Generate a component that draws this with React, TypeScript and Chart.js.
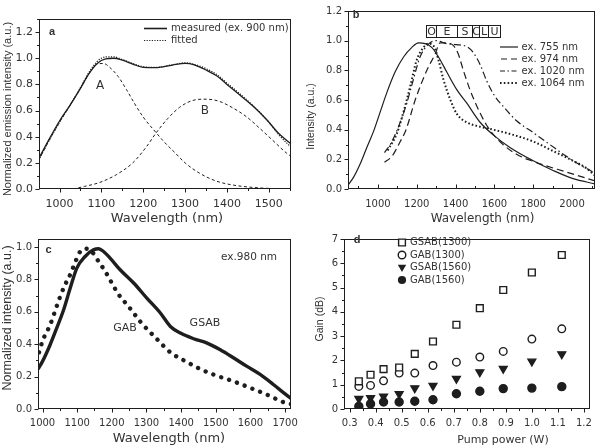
import React, { useEffect, useRef } from 'react';
import { Chart, registerables } from 'chart.js';
Chart.register(...registerables);

const INK = '#1e1e1e';
const TXT = '#333333';
const SANS = '"DejaVu Sans", sans-serif';
const ARIAL = '"Liberation Sans", Arial, sans-serif';

// ---------- Panel a ----------
const aWave = [950, 975, 1000, 1025, 1050, 1070, 1090, 1110, 1130, 1150, 1175, 1200, 1230, 1270, 1300, 1320, 1350, 1378, 1400, 1430, 1460, 1495, 1525, 1553];
const aMeasured = [0.23, 0.38, 0.52, 0.64, 0.77, 0.88, 0.96, 0.995, 1.0, 0.985, 0.955, 0.93, 0.928, 0.948, 0.96, 0.952, 0.91, 0.86, 0.8, 0.72, 0.64, 0.53, 0.42, 0.345];
const aFitted = [0.22, 0.37, 0.51, 0.64, 0.775, 0.89, 0.975, 1.01, 1.01, 0.99, 0.96, 0.935, 0.93, 0.95, 0.965, 0.955, 0.92, 0.87, 0.81, 0.73, 0.645, 0.53, 0.41, 0.32];
const aWaveA = [950, 975, 1000, 1025, 1050, 1070, 1090, 1105, 1120, 1140, 1160, 1180, 1200, 1231, 1250, 1275, 1300, 1335, 1375, 1415, 1480, 1553];
const aCompA = [0.22, 0.37, 0.51, 0.64, 0.77, 0.88, 0.955, 0.96, 0.93, 0.86, 0.76, 0.65, 0.55, 0.43, 0.36, 0.28, 0.2, 0.12, 0.06, 0.03, 0.008, 0.0];
const aWaveB = [1032, 1060, 1096, 1136, 1175, 1207, 1231, 1259, 1287, 1318, 1350, 1382, 1414, 1446, 1478, 1510, 1543, 1553];
const aCompB = [0.0, 0.02, 0.05, 0.11, 0.2, 0.32, 0.43, 0.54, 0.625, 0.677, 0.687, 0.67, 0.62, 0.554, 0.465, 0.37, 0.273, 0.25];
const aXTicks = [1000, 1100, 1200, 1300, 1400, 1500];
const aYTicks = [0, 0.2, 0.4, 0.6, 0.8, 1.0, 1.2];

// ---------- Panel b ----------
const b755Wave = [846, 875, 909, 943, 978, 1012, 1046, 1089, 1132, 1175, 1209, 1243, 1277, 1312, 1354, 1406, 1457, 1526, 1594, 1680, 1800, 1902, 2005, 2118];
const b755 = [0.026, 0.08, 0.17, 0.28, 0.39, 0.52, 0.65, 0.79, 0.89, 0.955, 0.985, 0.98, 0.955, 0.89, 0.79, 0.67, 0.58, 0.45, 0.365, 0.28, 0.19, 0.125, 0.07, 0.035];
const b974Wave = [1034, 1072, 1115, 1145, 1192, 1252, 1295, 1320, 1354, 1389, 1414, 1440, 1474, 1509, 1560, 1628, 1714, 1800, 1971, 2118];
const b974 = [0.18, 0.22, 0.32, 0.4, 0.6, 0.8, 0.91, 0.985, 0.985, 0.966, 0.91, 0.8, 0.67, 0.56, 0.43, 0.32, 0.234, 0.186, 0.114, 0.055];
const b1020Wave = [1034, 1072, 1115, 1149, 1183, 1217, 1260, 1300, 1354, 1406, 1457, 1491, 1526, 1560, 1600, 1650, 1714, 1800, 1885, 1971, 2057, 2100, 2118];
const b1020 = [0.245, 0.32, 0.45, 0.58, 0.74, 0.89, 0.977, 1.0, 0.98, 0.973, 0.96, 0.92, 0.84, 0.73, 0.63, 0.55, 0.46, 0.38, 0.3, 0.22, 0.15, 0.12, 0.1];
const b1064Wave = [1050, 1098, 1132, 1166, 1200, 1235, 1260, 1286, 1312, 1337, 1372, 1406, 1457, 1526, 1594, 1697, 1800, 1902, 2005, 2074, 2118];
const b1064 = [0.26, 0.375, 0.52, 0.69, 0.87, 0.955, 0.98, 0.966, 0.87, 0.74, 0.605, 0.507, 0.45, 0.42, 0.4, 0.365, 0.32, 0.256, 0.19, 0.14, 0.09];
const bBandNames = ['O', 'E', 'S', 'C', 'L', 'U'];
const bBandEdges = [1250, 1297, 1406, 1483, 1522, 1568, 1628];
const bBandTop = 1.105;
const bBandBottom = 1.026;
const bXTicks = [1000, 1200, 1400, 1600, 1800, 2000];
const bYTicks = [0, 0.2, 0.4, 0.6, 0.8, 1.0, 1.2];
const bLegend = ['ex. 755 nm', 'ex. 974 nm', 'ex. 1020 nm', 'ex. 1064 nm'];

// ---------- Panel c ----------
const cGsabWave = [987, 1000, 1022, 1041, 1061, 1080, 1099, 1123, 1147, 1162, 1176, 1195, 1224, 1263, 1301, 1340, 1369, 1398, 1436, 1475, 1513, 1552, 1590, 1629, 1667, 1696, 1717];
const cGsab = [0.247, 0.294, 0.397, 0.5, 0.613, 0.747, 0.87, 0.942, 0.983, 0.99, 0.973, 0.932, 0.86, 0.778, 0.685, 0.593, 0.51, 0.469, 0.434, 0.407, 0.366, 0.315, 0.263, 0.212, 0.15, 0.1, 0.065];
const cGabWave = [990, 1000, 1022, 1037, 1051, 1065, 1080, 1095, 1109, 1126, 1142, 1162, 1181, 1200, 1220, 1248, 1263, 1282, 1330, 1369, 1417, 1455, 1494, 1552, 1600, 1648, 1692, 1717];
const cGab = [0.35, 0.42, 0.52, 0.61, 0.695, 0.767, 0.83, 0.91, 0.973, 0.99, 0.973, 0.91, 0.85, 0.778, 0.706, 0.634, 0.593, 0.54, 0.432, 0.35, 0.29, 0.247, 0.212, 0.17, 0.13, 0.088, 0.045, 0.03];
const cXTicks = [1000, 1100, 1200, 1300, 1400, 1500, 1600, 1700];
const cYTicks = [0, 0.2, 0.4, 0.6, 0.8, 1.0];

// ---------- Panel d ----------
const dPump = [0.335, 0.38, 0.43, 0.49, 0.55, 0.62, 0.71, 0.8, 0.89, 1.0, 1.115];
const dGsab1300 = [1.14, 1.41, 1.64, 1.71, 2.27, 2.78, 3.47, 4.15, 4.9, 5.62, 6.34];
const dGab1300 = [0.93, 0.97, 1.16, 1.48, 1.48, 1.79, 1.93, 2.14, 2.37, 2.88, 3.3];
const dGsab1560 = [0.42, 0.45, 0.52, 0.62, 0.86, 0.96, 1.25, 1.52, 1.66, 1.96, 2.26];
const dGab1560 = [0.11, 0.21, 0.29, 0.29, 0.32, 0.38, 0.63, 0.73, 0.84, 0.86, 0.92];
const dLegend = ['GSAB(1300)', 'GAB(1300)', 'GSAB(1560)', 'GAB(1560)'];
const dXTicks = [0.3, 0.4, 0.5, 0.6, 0.7, 0.8, 0.9, 1.0, 1.1, 1.2];
const dYTicks = [0, 1, 2, 3, 4, 5, 6, 7];

// ---------- helpers ----------
const zip = (xs: number[], ys: number[]) => xs.map((x, i) => ({ x, y: ys[i] }));

function minorsOf(major: number[], min: number, max: number) {
  const out: number[] = [];
  for (let i = 0; i < major.length - 1; i++) out.push((major[i] + major[i + 1]) / 2);
  const step = major[1] - major[0];
  const lo = major[0] - step / 2;
  const hi = major[major.length - 1] + step / 2;
  if (lo >= min) out.push(lo);
  if (hi <= max) out.push(hi);
  return out;
}

function txt(ctx: CanvasRenderingContext2D, s: string, x: number, y: number, font: string, align: CanvasTextAlign = 'center', rot = 0, color = TXT) {
  ctx.save();
  ctx.translate(x, y);
  if (rot) ctx.rotate(rot);
  ctx.font = font;
  ctx.fillStyle = color;
  ctx.textAlign = align;
  ctx.textBaseline = 'middle';
  ctx.fillText(s, 0, 0);
  ctx.restore();
}

function seg(ctx: CanvasRenderingContext2D, x0: number, y0: number, x1: number, y1: number, dash: number[], w = 1.2, cap: CanvasLineCap = 'butt') {
  ctx.save();
  ctx.strokeStyle = INK;
  ctx.lineWidth = w;
  ctx.lineCap = cap;
  ctx.setLineDash(dash);
  ctx.beginPath();
  ctx.moveTo(x0, y0);
  ctx.lineTo(x1, y1);
  ctx.stroke();
  ctx.restore();
}

function axis(min: number, max: number, ticks: number[], fmt: (v: number) => string, font: any, pad: number, isY: boolean, size: number) {
  return {
    type: 'linear',
    min,
    max,
    grid: { display: false, drawTicks: false },
    border: { display: false },
    afterBuildTicks: (s: any) => {
      s.ticks = ticks.map((v) => ({ value: v }));
    },
    afterFit: (s: any) => {
      if (isY) s.width = size;
      else s.height = size;
    },
    ticks: {
      callback: (v: any) => fmt(Number(v)),
      font,
      color: TXT,
      padding: pad,
      autoSkip: false,
      maxRotation: 0,
      minRotation: 0,
    },
  };
}

function decor(xMajor: number[], yMajor: number[], xIn: boolean, extra: (ctx: CanvasRenderingContext2D, chart: any) => void) {
  return {
    id: 'decor',
    afterDraw(chart: any) {
      const { ctx, chartArea: ca, scales } = chart;
      const xs = scales.x;
      const ys = scales.y;
      ctx.save();
      ctx.strokeStyle = INK;
      ctx.lineWidth = 1;
      ctx.setLineDash([]);
      const L = Math.round(ca.left) + 0.5;
      const T = Math.round(ca.top) + 0.5;
      const R = Math.round(ca.right) - 0.5;
      const B = Math.round(ca.bottom) - 0.5;
      ctx.strokeRect(L, T, R - L, B - T);
      const dir = xIn ? -1 : 1;
      const xMinor = minorsOf(xMajor, xs.min, xs.max);
      const yMinor = minorsOf(yMajor, ys.min, ys.max);
      ctx.beginPath();
      xMajor.forEach((v) => {
        const p = Math.round(xs.getPixelForValue(v)) + 0.5;
        ctx.moveTo(p, B);
        ctx.lineTo(p, B + dir * 4);
      });
      xMinor.forEach((v) => {
        const p = Math.round(xs.getPixelForValue(v)) + 0.5;
        ctx.moveTo(p, B);
        ctx.lineTo(p, B + dir * 2.5);
      });
      yMajor.forEach((v) => {
        const p = Math.round(ys.getPixelForValue(v)) + 0.5;
        ctx.moveTo(L, p);
        ctx.lineTo(L - 4, p);
      });
      yMinor.forEach((v) => {
        const p = Math.round(ys.getPixelForValue(v)) + 0.5;
        ctx.moveTo(L, p);
        ctx.lineTo(L - 2.5, p);
      });
      ctx.stroke();
      ctx.restore();
      ctx.save();
      extra(ctx, chart);
      ctx.restore();
    },
  };
}

function lineDs(data: any[], dash: number[], width: number, cap: CanvasLineCap = 'butt') {
  return {
    data,
    borderColor: INK,
    borderWidth: width,
    borderDash: dash,
    borderCapStyle: cap,
    pointRadius: 0,
    fill: false,
    cubicInterpolationMode: 'monotone',
  };
}

function baseOptions(pad: { left: number; top: number; right: number; bottom: number }, scales: any) {
  return {
    responsive: false,
    animation: false,
    devicePixelRatio: 1,
    events: [],
    layout: { padding: pad },
    plugins: { legend: { display: false }, tooltip: { enabled: false }, title: { display: false } },
    scales,
  };
}

const f1 = (v: number) => v.toFixed(1);
const f0 = (v: number) => String(Math.round(v));

// ---------- chart builders ----------
function buildA() {
  return {
    type: 'line',
    data: {
      datasets: [
        lineDs(zip(aWaveA, aCompA), [3, 2.5], 1),
        lineDs(zip(aWaveB, aCompB), [3, 2.5], 1),
        lineDs(zip(aWave, aMeasured), [], 1.3),
        lineDs(zip(aWave, aFitted), [1.2, 1.4], 1.2),
      ],
    },
    options: baseOptions(
      { left: 9, top: 19, right: 309, bottom: 228 },
      {
        x: axis(951, 1553, aXTicks, f0, { family: SANS, size: 11 }, 9, false, 30),
        y: axis(0, 1.3, aYTicks, f1, { family: SANS, size: 11, lineHeight: 1 }, 6, true, 30),
      },
    ),
    plugins: [
      decor(aXTicks, aYTicks, false, (ctx, chart) => {
        const xs = chart.scales.x;
        const ys = chart.scales.y;
        txt(ctx, 'a', 52, 32, `bold 11px ${ARIAL}`);
        seg(ctx, 144, 28.5, 167, 28.5, [], 1.6);
        seg(ctx, 144, 40.5, 167, 40.5, [1.2, 1.4], 1.2);
        txt(ctx, 'measured (ex. 900 nm)', 171, 28.5, `10px ${SANS}`, 'left');
        txt(ctx, 'fitted', 171, 40.5, `10px ${SANS}`, 'left');
        txt(ctx, 'A', xs.getPixelForValue(1097), ys.getPixelForValue(0.79), `12px ${SANS}`);
        txt(ctx, 'B', xs.getPixelForValue(1347), ys.getPixelForValue(0.6), `12px ${SANS}`);
        txt(ctx, 'Wavelength (nm)', 167, 218.5, `13px ${SANS}`);
        txt(ctx, 'Normalized emission intensity (a.u.)', 7.5, 109, `11px ${ARIAL}`, 'center', -Math.PI / 2);
      }),
    ],
  };
}

function buildB() {
  return {
    type: 'line',
    data: {
      datasets: [
        lineDs(zip(b755Wave, b755), [], 1.2),
        lineDs(zip(b974Wave, b974), [7, 4], 1.2),
        lineDs(zip(b1020Wave, b1020), [7, 3, 1.5, 3], 1.2),
        lineDs(zip(b1064Wave, b1064), [1.6, 2.2], 2),
      ],
    },
    options: baseOptions(
      { left: 318, top: 6, right: 5, bottom: 228 },
      {
        x: axis(846, 2118, bXTicks, f0, { family: SANS, size: 10 }, 9, false, 30),
        y: axis(0, 1.2, bYTicks, f1, { family: SANS, size: 10, lineHeight: 1 }, 6, true, 30),
      },
    ),
    plugins: [
      decor(bXTicks, bYTicks, true, (ctx, chart) => {
        const xs = chart.scales.x;
        const ys = chart.scales.y;
        txt(ctx, 'b', 356, 15, `bold 11px ${ARIAL}`);
        // band box
        const top = Math.round(ys.getPixelForValue(bBandTop)) + 0.5;
        const bot = Math.round(ys.getPixelForValue(bBandBottom)) + 0.5;
        const px = bBandEdges.map((v) => Math.round(xs.getPixelForValue(v)) + 0.5);
        ctx.fillStyle = '#fff';
        ctx.fillRect(px[0], top, px[px.length - 1] - px[0], bot - top);
        ctx.strokeStyle = INK;
        ctx.lineWidth = 1;
        ctx.strokeRect(px[0], top, px[px.length - 1] - px[0], bot - top);
        ctx.beginPath();
        for (let i = 1; i < px.length - 1; i++) {
          ctx.moveTo(px[i], top);
          ctx.lineTo(px[i], bot);
        }
        ctx.stroke();
        bBandNames.forEach((n, i) => {
          txt(ctx, n, (px[i] + px[i + 1]) / 2, (top + bot) / 2 + 0.5, `11px ${SANS}`);
        });
        // legend
        const rows = [47, 59, 71, 83];
        seg(ctx, 500, rows[0], 518, rows[0], [], 1.2);
        seg(ctx, 501, rows[1], 518, rows[1], [6, 4], 1.2);
        seg(ctx, 500, rows[2], 518, rows[2], [5, 2.5, 1.5, 2.5], 1.2);
        seg(ctx, 500, rows[3], 518, rows[3], [1.6, 2.2], 2);
        bLegend.forEach((s, i) => txt(ctx, s, 521.5, rows[i], `10px ${SANS}`, 'left'));
        txt(ctx, 'Wavelength (nm)', 482.5, 218.5, `12px ${SANS}`);
        txt(ctx, 'Intensity (a.u.)', 311.5, 116.5, `10.5px ${ARIAL}`, 'center', -Math.PI / 2);
      }),
    ],
  };
}

function buildC() {
  return {
    type: 'line',
    data: {
      datasets: [
        lineDs(zip(cGabWave, cGab), [0.01, 8.3], 4.4, 'round'),
        lineDs(zip(cGsabWave, cGsab), [], 3.4),
      ],
    },
    options: baseOptions(
      { left: 8, top: 239, right: 309, bottom: 8 },
      {
        x: axis(987, 1717, cXTicks, f0, { family: SANS, size: 10 }, 8, false, 30),
        y: axis(0, 1.05, cYTicks, f1, { family: SANS, size: 10, lineHeight: 1 }, 6, true, 30),
      },
    ),
    plugins: [
      decor(cXTicks, cYTicks, false, (ctx) => {
        txt(ctx, 'c', 48.5, 250, `bold 11px ${ARIAL}`);
        txt(ctx, 'ex.980 nm', 249, 257, `10.5px ${SANS}`);
        txt(ctx, 'GAB', 125, 328, `11px ${SANS}`);
        txt(ctx, 'GSAB', 205, 323, `11px ${SANS}`);
        txt(ctx, 'Wavelength (nm)', 169, 438.5, `13px ${SANS}`);
        txt(ctx, 'Normalized intensity (a.u.)', 8, 318, `12.5px ${ARIAL}`, 'center', -Math.PI / 2);
      }),
    ],
  };
}

function drawMarker(ctx: CanvasRenderingContext2D, kind: number, x: number, y: number) {
  ctx.save();
  ctx.strokeStyle = INK;
  ctx.fillStyle = INK;
  ctx.lineWidth = 1.4;
  ctx.beginPath();
  if (kind === 0) {
    ctx.rect(x - 3.4, y - 3.4, 6.8, 6.8);
    ctx.fillStyle = '#fff';
    ctx.fill();
    ctx.stroke();
  } else if (kind === 1) {
    ctx.arc(x, y, 3.8, 0, Math.PI * 2);
    ctx.fillStyle = '#fff';
    ctx.fill();
    ctx.stroke();
  } else if (kind === 2) {
    ctx.moveTo(x - 4.2, y - 2.7);
    ctx.lineTo(x + 4.2, y - 2.7);
    ctx.lineTo(x, y + 4.4);
    ctx.closePath();
    ctx.fill();
  } else {
    ctx.arc(x, y, 4.1, 0, Math.PI * 2);
    ctx.fill();
  }
  ctx.restore();
}

function buildD() {
  const sc = (data: any[], style: string, r: number, fillColor: string, rot = 0) => ({
    data,
    showLine: false,
    pointStyle: style,
    pointRadius: r,
    pointRotation: rot,
    pointBackgroundColor: fillColor,
    pointBorderColor: INK,
    pointBorderWidth: 1.4,
  });
  return {
    type: 'scatter',
    data: {
      datasets: [
        sc(zip(dPump, dGsab1300), 'rect', 4.8, '#fff'),
        sc(zip(dPump, dGab1300), 'circle', 3.8, '#fff'),
        sc(zip(dPump, dGsab1560), 'triangle', 4.5, INK, 180),
        sc(zip(dPump, dGab1560), 'circle', 4, INK),
      ],
    },
    options: baseOptions(
      { left: 314, top: 239, right: 5, bottom: 8 },
      {
        x: axis(0.278, 1.222, dXTicks, f1, { family: SANS, size: 10 }, 8, false, 30),
        y: axis(0, 7, dYTicks, f0, { family: SANS, size: 10, lineHeight: 1 }, 6, true, 30),
      },
    ),
    plugins: [
      decor(dXTicks, dYTicks, false, (ctx) => {
        txt(ctx, 'd', 357, 240, `bold 11px ${ARIAL}`);
        const rows = [242.5, 255, 267.5, 280];
        dLegend.forEach((s, i) => {
          drawMarker(ctx, i, 402, rows[i]);
          txt(ctx, s, 410, rows[i], `10px ${SANS}`, 'left');
        });
        txt(ctx, 'Pump power (W)', 503, 440, `11px ${SANS}`);
        txt(ctx, 'Gain (dB)', 320.5, 319, `10.5px ${ARIAL}`, 'center', -Math.PI / 2);
      }),
    ],
  };
}

function Panel({ build }: { build: () => any }) {
  const ref = useRef<HTMLCanvasElement>(null);
  useEffect(() => {
    const chart = new Chart(ref.current as HTMLCanvasElement, build() as any);
    return () => chart.destroy();
  }, [build]);
  return (
    <canvas
      ref={ref}
      width={600}
      height={447}
      style={{ position: 'absolute', left: 0, top: 0, width: 600, height: 447 }}
    />
  );
}

export default function App() {
  return (
    <div style={{ position: 'absolute', left: 0, top: 0, width: 600, height: 447, background: '#ffffff', overflow: 'hidden' }}>
      <Panel build={buildA} />
      <Panel build={buildB} />
      <Panel build={buildC} />
      <Panel build={buildD} />
    </div>
  );
}
